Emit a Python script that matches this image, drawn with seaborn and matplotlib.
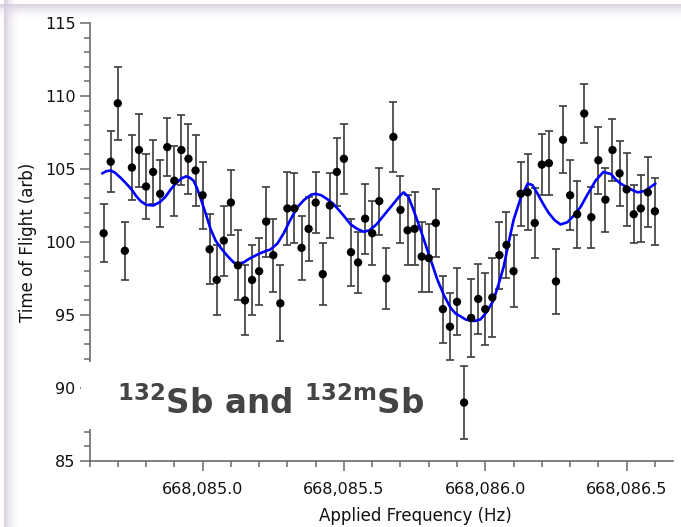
import numpy as np
import pandas as pd
import matplotlib
matplotlib.use("Agg")
import matplotlib.pyplot as plt
from matplotlib.patches import Rectangle
from matplotlib.ticker import MultipleLocator, FuncFormatter
import seaborn as sns

# -----------------------
# Data
# -----------------------
freq = [
    668084.650, 668084.675, 668084.700, 668084.725, 668084.750, 668084.775, 668084.800, 668084.825,
    668084.850, 668084.875, 668084.900, 668084.925, 668084.950, 668084.975, 668085.000, 668085.025,
    668085.050, 668085.075, 668085.100, 668085.125, 668085.150, 668085.175, 668085.200, 668085.225,
    668085.250, 668085.275, 668085.300, 668085.325, 668085.350, 668085.375, 668085.400, 668085.425,
    668085.450, 668085.475, 668085.500, 668085.525, 668085.550, 668085.575, 668085.600, 668085.625,
    668085.650, 668085.675, 668085.700, 668085.725, 668085.750, 668085.775, 668085.800, 668085.825,
    668085.850, 668085.875, 668085.900, 668085.925, 668085.950, 668085.975, 668086.000, 668086.025,
    668086.050, 668086.075, 668086.100, 668086.125, 668086.150, 668086.175, 668086.200, 668086.225,
    668086.250, 668086.275, 668086.300, 668086.325, 668086.350, 668086.375, 668086.400, 668086.425,
    668086.450, 668086.475, 668086.500, 668086.525, 668086.550, 668086.575, 668086.600,
]
tof = [
    100.6, 105.5, 109.5, 99.4, 105.1, 106.3, 103.8, 104.8,
    103.3, 106.5, 104.2, 106.3, 105.7, 104.9, 103.2, 99.5,
    97.4, 100.1, 102.7, 98.4, 96.0, 97.4, 98.0, 101.4,
    99.1, 95.8, 102.3, 102.3, 99.6, 100.9, 102.7, 97.8,
    102.5, 104.8, 105.7, 99.3, 98.6, 101.6, 100.6, 102.8,
    97.5, 107.2, 102.2, 100.8, 100.9, 99.0, 98.9, 101.3,
    95.4, 94.2, 95.9, 89.0, 94.8, 96.1, 95.4, 96.2,
    99.1, 99.8, 98.0, 103.3, 103.4, 101.3, 105.3, 105.4,
    97.3, 107.0, 103.2, 101.9, 108.8, 101.7, 105.6, 102.9,
    106.3, 104.7, 103.6, 101.9, 102.3, 103.4, 102.1,
]
tof_err = [
    2.0, 2.1, 2.5, 2.0, 2.2, 2.5, 2.2, 2.2,
    2.3, 2.0, 2.4, 2.4, 2.4, 2.4, 2.3, 2.4,
    2.4, 2.4, 2.2, 2.4, 2.4, 2.4, 2.3, 2.4,
    2.5, 2.6, 2.5, 2.4, 2.2, 2.2, 2.1, 2.1,
    2.2, 2.3, 2.4, 2.3, 2.1, 2.4, 2.2, 2.3,
    2.1, 2.4, 2.3, 2.4, 2.5, 2.4, 2.3, 2.3,
    2.3, 2.3, 2.3, 2.5, 2.7, 2.4, 2.45, 2.7,
    2.3, 2.25, 2.45, 2.2, 2.6, 2.4, 2.1, 2.2,
    2.2, 2.3, 2.4, 2.3, 2.0, 2.1, 2.3, 2.2,
    2.1, 2.2, 2.5, 2.0, 2.3, 2.4, 2.3,
]

# fit curve (traced)
fit_freq = [
    668084.645, 668084.660, 668084.675, 668084.690, 668084.710, 668084.730, 668084.749, 668084.765,
    668084.781, 668084.800, 668084.826, 668084.850, 668084.869, 668084.887, 668084.905, 668084.925,
    668084.942, 668084.955, 668084.968, 668084.980, 668084.993, 668085.010, 668085.028, 668085.046,
    668085.064, 668085.090, 668085.110, 668085.123, 668085.145, 668085.165, 668085.180, 668085.200,
    668085.220, 668085.241, 668085.265, 668085.287, 668085.310, 668085.336, 668085.360, 668085.385,
    668085.400, 668085.420, 668085.440, 668085.463, 668085.495, 668085.524, 668085.547, 668085.570,
    668085.590, 668085.615, 668085.640, 668085.670, 668085.695, 668085.711, 668085.728, 668085.746,
    668085.770, 668085.796, 668085.831, 668085.855, 668085.877, 668085.895, 668085.913, 668085.930,
    668085.948, 668085.965, 668085.983, 668086.005, 668086.029, 668086.047, 668086.065, 668086.082,
    668086.100, 668086.125, 668086.150, 668086.167, 668086.185, 668086.205, 668086.224, 668086.245,
    668086.266, 668086.290, 668086.313, 668086.337, 668086.360, 668086.390, 668086.418, 668086.445,
    668086.460, 668086.479, 668086.510, 668086.539, 668086.565, 668086.602,
]
fit_tof = [
    104.7, 104.85, 104.9, 104.75, 104.4, 104.0, 103.6, 103.15,
    102.8, 102.55, 102.5, 102.75, 103.1, 103.6, 104.0, 104.35,
    104.5, 104.4, 104.2, 103.7, 103.0, 102.0, 100.9, 100.1,
    99.6, 99.0, 98.6, 98.5, 98.6, 98.85, 99.0, 99.2,
    99.35, 99.5, 99.9, 100.6, 101.5, 102.4, 102.9, 103.25,
    103.3, 103.2, 102.95, 102.6, 101.9, 101.2, 100.9, 100.7,
    100.8, 101.2, 101.8, 102.5, 103.1, 103.4, 103.1, 102.2,
    100.9, 99.4, 97.4, 96.3, 95.5, 95.1, 94.9, 94.7,
    94.6, 94.6, 94.7, 95.2, 96.0, 97.1, 98.3, 99.9,
    101.5, 103.0, 104.0, 103.9, 103.3, 102.6, 102.0, 101.5,
    101.2, 101.35, 101.8, 102.4, 103.2, 104.2, 104.8, 104.65,
    104.3, 104.0, 103.65, 103.4, 103.5, 104.0,
]

df = pd.DataFrame({"freq": freq, "tof": tof, "err": tof_err})
fit = pd.DataFrame({"freq": fit_freq, "tof": fit_tof})

# -----------------------
# Style
# -----------------------
sns.set_theme(style="ticks")
plt.rcParams["font.family"] = ["DejaVu Sans"]

W, H = 681, 527
fig = plt.figure(figsize=(W / 100, H / 100), dpi=100)
fig.patch.set_facecolor("white")

# lavender slide frame (top and left)
for i, a in enumerate([0.9, 0.7, 0.5, 0.35, 0.22, 0.12, 0.06]):
    fig.patches.append(Rectangle((0, 1 - (4 + 2 * (i + 1)) / H), 1, 2 / H, transform=fig.transFigure,
                                 color="#d8cfe0", alpha=a, lw=0, zorder=-5))
    fig.patches.append(Rectangle(((4 + 2 * i) / W, 0), 2 / W, 1, transform=fig.transFigure,
                                 color="#d8cfe0", alpha=a, lw=0, zorder=-5))

ax = fig.add_axes([89.5 / W, (H - 461) / H, 583.5 / W, 438 / H])
ax.set_facecolor("none")

ax.errorbar(df["freq"], df["tof"], yerr=df["err"], fmt="none", ecolor="#3c3c3c",
            elinewidth=1.2, capsize=3, capthick=1.2, zorder=2)
sns.lineplot(data=fit, x="freq", y="tof", color="#0000ff", lw=1.9, ax=ax, zorder=3)
sns.scatterplot(data=df, x="freq", y="tof", color="black", s=36, edgecolor="none", ax=ax, zorder=4)

ax.set_xlim(668084.6, 668084.6 + 583.5 / 282.7)
ax.set_ylim(85, 115)

ax.xaxis.set_major_locator(MultipleLocator(0.5))
ax.xaxis.set_minor_locator(MultipleLocator(0.1))
ax.xaxis.set_major_formatter(FuncFormatter(lambda v, p: f"{v:,.1f}"))
ax.yaxis.set_major_locator(MultipleLocator(5))
ax.yaxis.set_minor_locator(MultipleLocator(1))

sns.despine(ax=ax)
for s in ["left", "bottom"]:
    ax.spines[s].set_color("#6a6a6a")
    ax.spines[s].set_linewidth(1.2)

ax.tick_params(axis="both", which="major", length=7, width=1.1, color="#6a6a6a",
               labelsize=11.5, labelcolor="#111111")
ax.tick_params(axis="both", which="minor", length=4, width=1.1, color="#6a6a6a")
ax.tick_params(axis="x", which="major", pad=8)
ax.tick_params(axis="y", which="major", pad=3)

ax.set_xlabel("Applied Frequency (Hz)", fontsize=12, color="#111111", labelpad=1)
ax.set_ylabel("Time of Flight (arb)", fontsize=12, color="#111111", labelpad=6)
ax.xaxis.set_label_coords((415 - 89.5) / 583.5, -0.105)

# white text box over the axis
ax.add_patch(Rectangle((81 / W, 1 - 429 / H), (445 - 81) / W, (429 - 362) / H,
                       transform=fig.transFigure, facecolor="white", edgecolor="none",
                       zorder=10, clip_on=False))
ax.text(117 / W, 1 - 414 / H, r"$^{\mathregular{132}}$Sb and $^{\mathregular{132m}}$Sb",
        transform=fig.transFigure, fontsize=23.5, fontweight="bold", color="#444444",
        ha="left", va="baseline", zorder=11)

fig.savefig("out.png", dpi=100, facecolor=fig.get_facecolor())
